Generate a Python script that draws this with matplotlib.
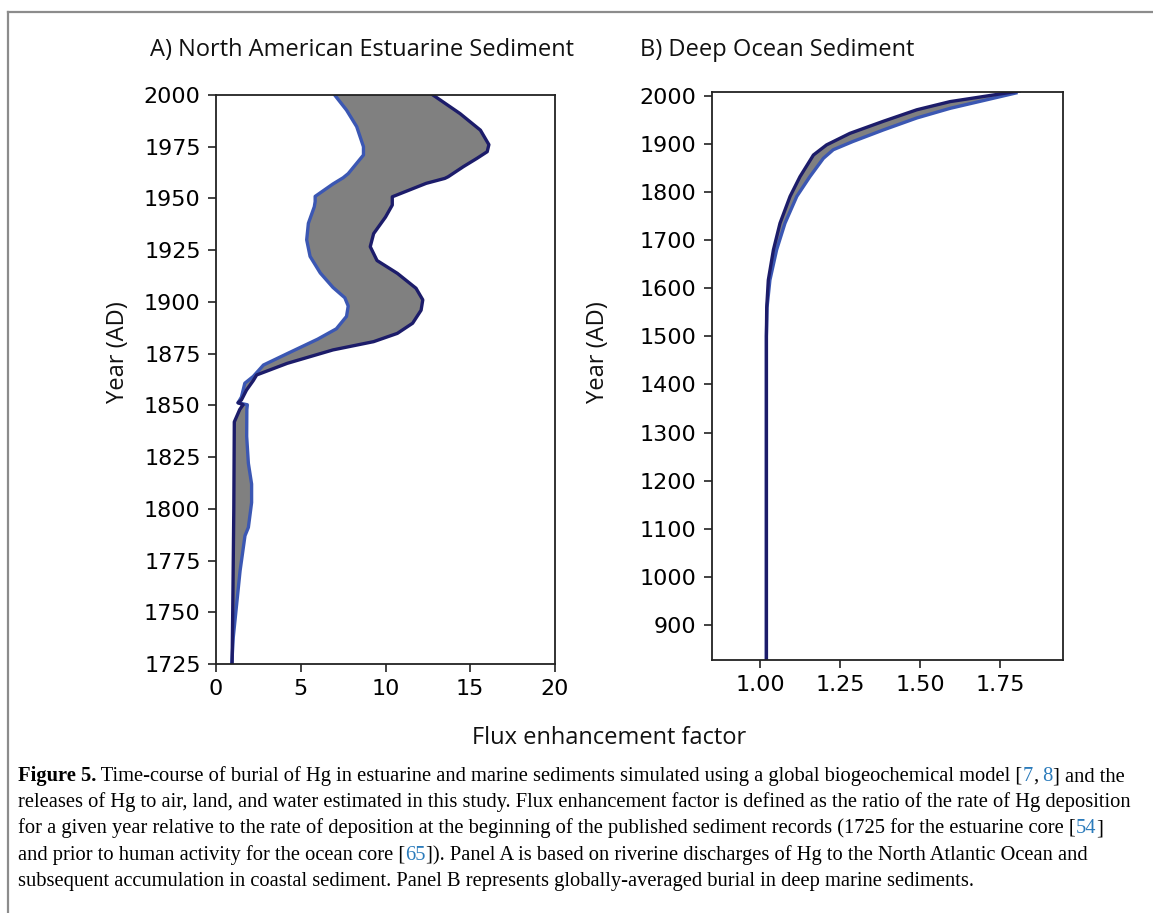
import numpy as np
import matplotlib
matplotlib.use("Agg")
import matplotlib.pyplot as plt
from matplotlib.lines import Line2D

# Panel A: North American estuarine sediment (flux enhancement vs year)
a_hi_year = [2000, 1991, 1983, 1976, 1972.6, 1969.4, 1965.4, 1960.5, 1959.7, 1957.3,
             1950.8, 1946.8, 1941, 1933, 1926.7, 1920, 1913.8, 1906.6, 1901, 1896,
             1889.7, 1884.8, 1880.8, 1876.8, 1870.3, 1864.7, 1862, 1857.4, 1852.6,
             1851.3, 1850.3, 1848, 1842, 1800, 1760, 1725]
a_hi_flux = [12.8, 14.4, 15.6, 16.1, 16.0, 15.4, 14.6, 13.7, 13.5, 12.4,
             10.4, 10.4, 10.0, 9.3, 9.1, 9.5, 10.7, 11.8, 12.2, 12.1,
             11.6, 10.7, 9.3, 6.9, 4.2, 2.4, 2.2, 1.8, 1.5,
             1.3, 1.6, 1.4, 1.08, 1.05, 1.0, 0.95]

a_lo_year = [2000, 1992.7, 1984.7, 1975, 1971, 1967, 1962, 1960, 1957, 1951,
             1948.5, 1946, 1938, 1930, 1922, 1914, 1907, 1902, 1898, 1893,
             1887, 1882, 1875, 1869.5, 1864, 1860.7, 1854, 1851.2, 1850.3,
             1848, 1835, 1822, 1812, 1803, 1791, 1787, 1770, 1754, 1738, 1725]
a_lo_flux = [7.0, 7.7, 8.3, 8.7, 8.7, 8.3, 7.8, 7.5, 6.9, 5.85,
             5.85, 5.8, 5.45, 5.35, 5.55, 6.15, 6.9, 7.6, 7.8, 7.7,
             7.1, 6.0, 4.2, 2.8, 2.2, 1.7, 1.5, 1.3, 1.85,
             1.82, 1.81, 1.91, 2.1, 2.1, 1.91, 1.71, 1.42, 1.22, 1.02, 0.93]

# Panel B: deep ocean sediment
b_hi_year = [820, 1500, 1560, 1617, 1680, 1735, 1791, 1832, 1877, 1898, 1922,
             1947, 1971, 1988, 2010]
b_hi_flux = [1.02, 1.02, 1.021, 1.026, 1.042, 1.0625, 1.094, 1.125, 1.167, 1.208,
             1.281, 1.385, 1.49, 1.594, 1.81]
b_lo_year = [820, 1500, 1560, 1617, 1680, 1735, 1791, 1832, 1870, 1888, 1905,
             1929, 1954, 1974, 2006]
b_lo_flux = [1.02, 1.02, 1.022, 1.031, 1.052, 1.078, 1.115, 1.156, 1.198, 1.229,
             1.29, 1.385, 1.49, 1.594, 1.80]

a_yticks = list(range(1725, 2001, 25))
a_xticks = [0, 5, 10, 15, 20]
b_yticks = list(range(900, 2001, 100))
b_xticks = [1.00, 1.25, 1.50, 1.75]

DARK = '#1c1c6a'
BLUE = '#3b57b3'
FILL = '#808080'
LINK = '#2b7bbb'

W, H = 1153, 913
fig = plt.figure(figsize=(W / 100, H / 100), dpi=100)


def fx(px):
    return px / W


def fy(py):
    return 1 - py / H


axA = fig.add_axes([fx(216), fy(664), fx(555 - 216), (664 - 95) / H])
axB = fig.add_axes([fx(712), fy(660), fx(1063 - 712), (660 - 92) / H])

for ax, hx, hy, lx, ly in [(axA, a_hi_flux, a_hi_year, a_lo_flux, a_lo_year),
                           (axB, b_hi_flux, b_hi_year, b_lo_flux, b_lo_year)]:
    ax.fill(np.concatenate([hx, lx[::-1]]), np.concatenate([hy, ly[::-1]]),
            color=FILL, lw=0)
    ax.plot(lx, ly, color=BLUE, lw=2.4, solid_joinstyle='round')
    ax.plot(hx, hy, color=DARK, lw=2.4, solid_joinstyle='round')
    ax.tick_params(labelsize=16, length=6, width=1.2, pad=5, color='#222222')
    for s in ax.spines.values():
        s.set_linewidth(1.3)
        s.set_color('#222222')

axA.set_xlim(0, 20)
axA.set_ylim(1725, 2000)
axA.set_xticks(a_xticks)
axA.set_yticks(a_yticks)

axB.set_xlim(0.85, 1.947)
axB.set_ylim(827, 2008)
axB.set_xticks(b_xticks)
axB.set_xticklabels(['%.2f' % v for v in b_xticks])
axB.set_yticks(b_yticks)

lab = dict(family=['Open Sans', 'DejaVu Sans'], fontsize=17, color='#111111')
fig.text(fx(150), fy(50), 'A) North American Estuarine Sediment', ha='left', va='center', **lab)
fig.text(fx(640), fy(50), 'B) Deep Ocean Sediment', ha='left', va='center', **lab)
fig.text(fx(118), fy(352), 'Year (AD)', rotation=90, ha='center', va='center', **lab)
fig.text(fx(598), fy(352), 'Year (AD)', rotation=90, ha='center', va='center', **lab)
fig.text(fx(609), fy(738), 'Flux enhancement factor', ha='center', va='center', **lab)

# frame around the figure
fig.add_artist(Line2D([fx(8), 1.0], [fy(12), fy(12)], color='#8c8c8c', lw=1.6))
fig.add_artist(Line2D([fx(8), fx(8)], [0, fy(12)], color='#8c8c8c', lw=1.6))

# caption, built from segments so the citation numbers can be coloured
cap_font = ['Liberation Serif', 'DejaVu Serif']
cap_size = 14.8
caption = [
    [('Figure 5.', 'black', 'bold'),
     (' Time-course of burial of Hg in estuarine and marine sediments simulated using a global biogeochemical model [', 'black', 'normal'),
     ('7', LINK, 'normal'), (',', 'black', 'normal'), (' 8', LINK, 'normal'),
     ('] and the', 'black', 'normal')],
    [('releases of Hg to air, land, and water estimated in this study. Flux enhancement factor is defined as the ratio of the rate of Hg deposition', 'black', 'normal')],
    [('for a given year relative to the rate of deposition at the beginning of the published sediment records (1725 for the estuarine core [', 'black', 'normal'),
     ('54', LINK, 'normal'), (']', 'black', 'normal')],
    [('and prior to human activity for the ocean core [', 'black', 'normal'),
     ('65', LINK, 'normal'),
     (']). Panel A is based on riverine discharges of Hg to the North Atlantic Ocean and', 'black', 'normal')],
    [('subsequent accumulation in coastal sediment. Panel B represents globally-averaged burial in deep marine sediments.', 'black', 'normal')],
]
line_y = [786, 812, 838, 865, 891]

for segs, py in zip(caption, line_y):
    prev = None
    for text, col, wt in segs:
        if prev is None:
            prev = fig.text(fx(18), fy(py), text, ha='left', va='bottom', color=col,
                            fontweight=wt, family=cap_font, fontsize=cap_size)
        else:
            prev = axA.annotate(text, xy=(1, 0), xycoords=prev, ha='left', va='bottom',
                                color=col, fontweight=wt, family=cap_font,
                                fontsize=cap_size, annotation_clip=False)

fig.savefig('out.png', dpi=100)
